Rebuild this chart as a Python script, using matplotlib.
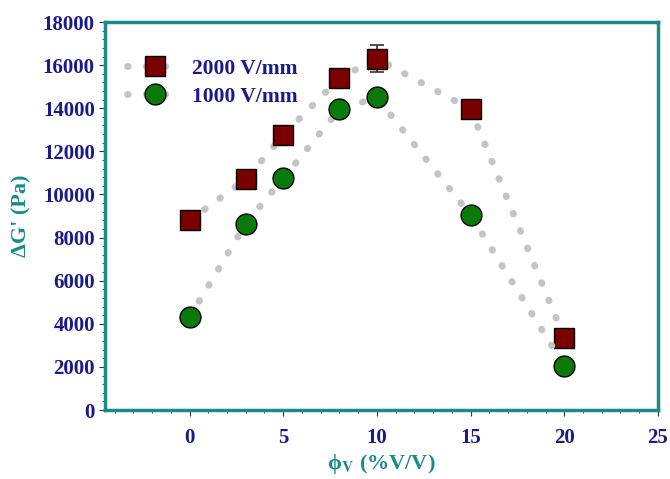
import matplotlib.pyplot as plt
from matplotlib.ticker import MultipleLocator

# volume fraction (%V/V) and storage modulus increment (Pa)
phi = [0, 3, 5, 8, 10, 15, 20]
dg_2000 = [8800, 10700, 12750, 15400, 16300, 13950, 3350]
dg_1000 = [4300, 8650, 10750, 13950, 14500, 9050, 2050]
err_2000 = [0, 0, 0, 0, 620, 0, 0]

teal = "#1b8a8a"
navy = "#1a1a8a"

plt.rcParams["font.family"] = ["Liberation Serif", "DejaVu Serif"]
plt.rcParams["font.weight"] = "bold"
plt.rcParams["mathtext.fontset"] = "stix"

fig = plt.figure(figsize=(6.7, 4.79), dpi=100)
ax = fig.add_axes([0.157, 0.144, 0.825, 0.81])

dots = (0, (0.1, 2.6))
ax.plot(phi, dg_2000, linestyle=dots, dash_capstyle="round",
        color="#c4c4c4", lw=5, marker="s", ms=14, mfc="#7a0000",
        mec="black", mew=1, label="2000 V/mm", zorder=3)
ax.errorbar(phi[4], dg_2000[4], yerr=err_2000[4], fmt="none",
            ecolor="#333333", elinewidth=1.2, capsize=5, capthick=1.2, zorder=2)
ax.plot(phi, dg_1000, linestyle=dots, dash_capstyle="round",
        color="#c4c4c4", lw=5, marker="o", ms=15, mfc="#0a7a0a",
        mec="black", mew=1, label="1000 V/mm", zorder=3)

ax.set_xlim(-4.5, 25)
ax.set_ylim(0, 18000)
ax.xaxis.set_major_locator(MultipleLocator(5))
ax.xaxis.set_minor_locator(MultipleLocator(1))
ax.yaxis.set_major_locator(MultipleLocator(2000))
ax.yaxis.set_minor_locator(MultipleLocator(400))
ax.tick_params(which="both", direction="out", colors="#333333",
               labelcolor=navy, labelsize=15)
ax.tick_params(which="major", length=4)
ax.tick_params(which="minor", length=2)
ax.tick_params(axis="x", pad=9)
ax.set_xticks([0, 5, 10, 15, 20, 25])

for s in ax.spines.values():
    s.set_color(teal)
    s.set_linewidth(2.5)

ax.set_xlabel("ϕ$_\\mathbf{V}$ (%V/V)", color=teal, fontsize=16,
              fontweight="bold", labelpad=3)
ax.set_ylabel("ΔG' (Pa)", color=teal, fontsize=16, fontweight="bold",
              labelpad=8)

leg = ax.legend(loc="upper left", bbox_to_anchor=(0.005, 0.955), frameon=False,
                fontsize=15.5, handlelength=2.6, labelspacing=0.35,
                handletextpad=0.4)
for t in leg.get_texts():
    t.set_color(navy)

fig.savefig("out.png", dpi=100)
